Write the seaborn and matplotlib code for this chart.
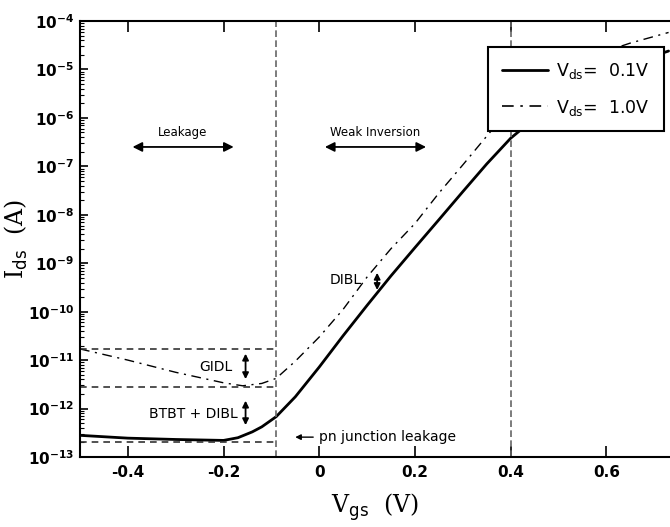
import numpy as np
import pandas as pd
import matplotlib
matplotlib.use("Agg")
import matplotlib.pyplot as plt
import seaborn as sns
from matplotlib.lines import Line2D

# ---- data ----
vgs_01 = [-0.5, -0.4, -0.3, -0.2, -0.17, -0.14, -0.12, -0.09, -0.05, 0.0, 0.05, 0.1, 0.15,
          0.2, 0.25, 0.3, 0.35, 0.4, 0.5, 0.6, 0.73]
ids_01 = [2.8e-13, 2.45e-13, 2.3e-13, 2.2e-13, 2.5e-13, 3.3e-13, 4.2e-13, 6.8e-13, 1.75e-12,
          7.2e-12, 3.2e-11, 1.35e-10, 5.5e-10, 2.1e-09, 7.9e-09, 3.0e-08, 1.12e-07,
          3.8e-07, 2.5e-06, 8.9e-06, 2.4e-05]
vgs_10 = [-0.5, -0.4, -0.3, -0.2, -0.16, -0.12, -0.09, -0.05, 0.0, 0.05, 0.1, 0.15, 0.2,
          0.25, 0.3, 0.35, 0.4, 0.5, 0.6, 0.65, 0.73]
ids_10 = [1.7e-11, 1.0e-11, 5.6e-12, 3.4e-12, 2.95e-12, 3.3e-12, 4.2e-12, 9.5e-12, 3.0e-11,
          1.12e-10, 5.2e-10, 2.0e-09, 6.6e-09, 2.8e-08, 1.07e-07, 4.2e-07, 1.6e-06,
          7.9e-06, 2.4e-05, 3.5e-05, 5.8e-05]
region_lines = [-0.09, 0.4]
level_lines = [1.7e-11, 2.8e-12, 2.0e-13]
xticks = [-0.4, -0.2, 0.0, 0.2, 0.4, 0.6]
xticklabels = ["-0.4", "-0.2", "0", "0.2", "0.4", "0.6"]
series_labels = [r"V$_{\rm ds}$=  0.1V", r"V$_{\rm ds}$=  1.0V"]

df = pd.concat([
    pd.DataFrame({"Vgs": vgs_01, "Ids": ids_01, "s": series_labels[0]}),
    pd.DataFrame({"Vgs": vgs_10, "Ids": ids_10, "s": series_labels[1]}),
])

sns.set_theme(style="ticks")
plt.rcParams["font.family"] = ["DejaVu Sans"]
for k in ["text.color", "axes.labelcolor", "xtick.color", "ytick.color"]:
    plt.rcParams[k] = "black"

fig = plt.figure(figsize=(6.7, 5.27), dpi=100)
ax = fig.add_axes([80 / 670, 1 - 457 / 527, 1 - 80 / 670, (457 - 21) / 527])

sns.lineplot(data=df[df.s == series_labels[0]], x="Vgs", y="Ids", color="black",
             lw=2.0, ax=ax, legend=False, sort=False)
sns.lineplot(data=df[df.s == series_labels[1]], x="Vgs", y="Ids", color="black",
             lw=1.0, ax=ax, legend=False, sort=False)
ax.lines[1].set_linestyle((0, (7, 4, 1.5, 4)))

ax.set_yscale("log")
ax.set_xlim(-0.5, 0.733)
ax.set_ylim(1e-13, 1e-4)
ax.set_yticks([10.0 ** k for k in range(-13, -3)])

for xv in region_lines:
    ax.axvline(xv, color="#666666", ls=(0, (4, 2)), lw=1.2)
for yv in level_lines:
    ax.plot([-0.5, -0.09], [yv, yv], color="#333333", ls=(0, (4, 3)), lw=1.2)

ax.set_xticks(xticks)
ax.set_xticklabels(xticklabels)
ax.tick_params(axis="both", which="both", direction="in", top=True, right=False,
               labelsize=11)
ax.tick_params(axis="x", which="major", length=8, width=1.2, pad=6)
ax.tick_params(axis="y", which="major", length=6, width=1.2, pad=4)
ax.tick_params(axis="y", which="minor", length=3, width=0.8)
ax.minorticks_on()
ax.tick_params(axis="x", which="minor", bottom=False, top=False)
for lab in ax.get_xticklabels() + ax.get_yticklabels():
    lab.set_fontweight("bold")
ax.spines["right"].set_visible(False)
for sp in ["left", "bottom", "top"]:
    ax.spines[sp].set_linewidth(1.5)
    ax.spines[sp].set_color("black")

ax.set_xlabel(r"V$_{\rm gs}$  (V)", family="DejaVu Serif", fontsize=17, labelpad=8)
ax.set_ylabel(r"I$_{\rm ds}$  (A)", family="DejaVu Serif", fontsize=17)
ax.yaxis.set_label_coords(-0.085, 0.5)

arrow = dict(arrowstyle="<|-|>", color="black", lw=1.3, mutation_scale=14)
small = dict(arrowstyle="<|-|>", color="black", lw=1.3, mutation_scale=9)
ax.annotate("", xy=(-0.396, 10 ** -6.6), xytext=(-0.173, 10 ** -6.6), arrowprops=arrow)
ax.annotate("", xy=(0.006, 10 ** -6.6), xytext=(0.229, 10 ** -6.6), arrowprops=arrow)
ax.text(-0.285, 10 ** -6.3, "Leakage", ha="center", va="center", fontsize=8.5)
ax.text(0.117, 10 ** -6.3, "Weak Inversion", ha="center", va="center", fontsize=8.5)

ax.annotate("", xy=(-0.154, 10 ** -10.81), xytext=(-0.154, 10 ** -11.45), arrowprops=small)
ax.text(-0.217, 10 ** -11.14, "GIDL", ha="center", va="center", fontsize=10)
ax.annotate("", xy=(-0.154, 10 ** -11.78), xytext=(-0.154, 10 ** -12.4), arrowprops=small)
ax.text(-0.2625, 10 ** -12.11, "BTBT + DIBL", ha="center", va="center", fontsize=10)
ax.annotate("", xy=(0.121, 10 ** -9.14), xytext=(0.121, 10 ** -9.61), arrowprops=small)
ax.text(0.056, 10 ** -9.34, "DIBL", ha="center", va="center", fontsize=10)
ax.annotate("pn junction leakage", xy=(-0.056, 10 ** -12.59), xytext=(0.0, 10 ** -12.59),
            va="center", ha="left", fontsize=10,
            arrowprops=dict(arrowstyle="-|>", color="black", lw=1.0, mutation_scale=8))

handles = [Line2D([], [], color="black", lw=2.0),
           Line2D([], [], color="black", lw=1.2, ls=(0, (7, 4, 1.5, 4)))]
leg = ax.legend(handles, series_labels, loc="upper left", bbox_to_anchor=(0.691, 0.94),
                borderaxespad=0, fontsize=12.5, frameon=True, fancybox=False,
                handlelength=2.65, handletextpad=0.5, labelspacing=0.95, borderpad=0.8)
leg.get_frame().set_edgecolor("black")
leg.get_frame().set_linewidth(1.5)
leg.get_frame().set_alpha(1)

fig.savefig("out.png", dpi=100)
